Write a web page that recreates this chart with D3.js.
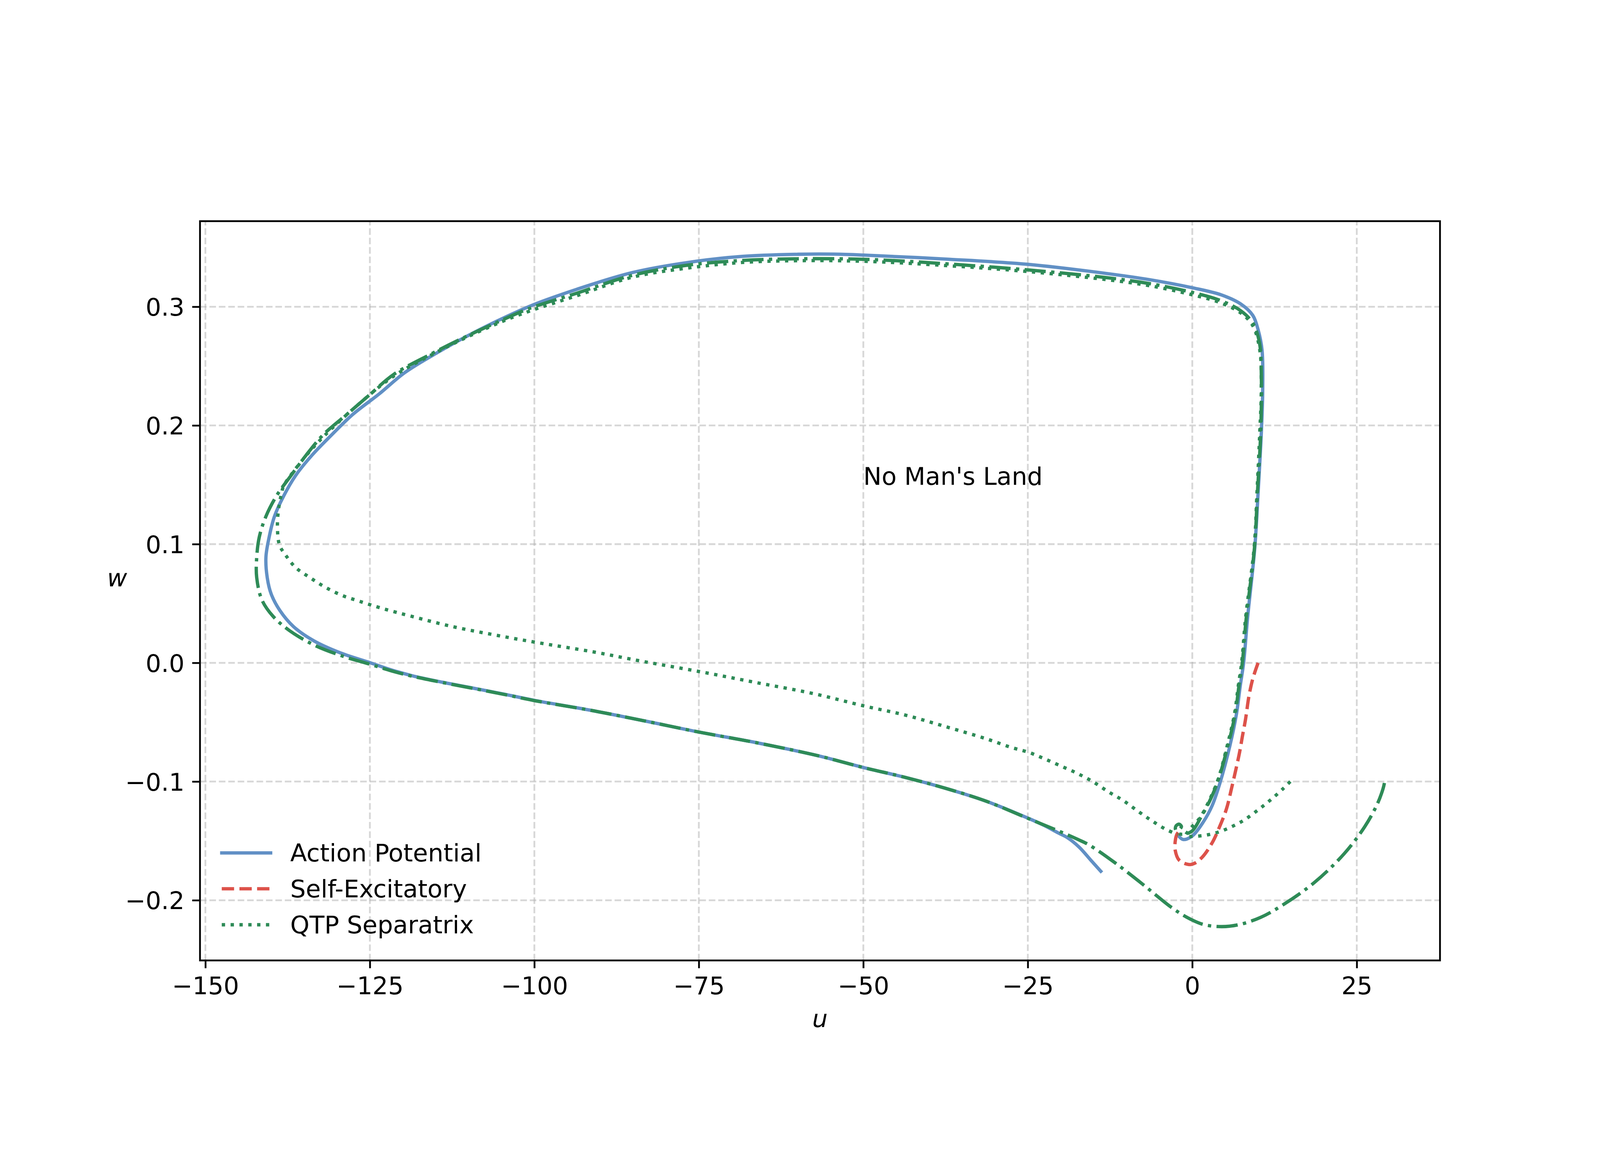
<html>
<head>
<meta charset='UTF-8'>
<script src="https://d3js.org/d3.v7.min.js"></script>
<style>
  html, body { margin: 0; padding: 0; background: #ffffff; overflow: hidden; }
  svg { display: block; }
  text { font-family: "DejaVu Sans", sans-serif; }
</style>
</head>
<body>
<svg id="chart" viewBox="0 0 5000 3000" preserveAspectRatio="xMidYMid meet" style="width: 100vw; height: 100vh; background: #ffffff"></svg>
<script>
// tick values
const xTicks = [-150, -125, -100, -75, -50, -25, 0, 25];
const yTicks = [-0.2, -0.1, 0.0, 0.1, 0.2, 0.3];

// action potential trajectory [u, w]
const actionPotential = [
  [-13.9, -0.1756], [-15.3, -0.1670], [-17.2, -0.1552], [-19.0, -0.1472], [-20.4, -0.1432],
  [-22.5, -0.1370], [-24.9, -0.1310], [-31.3, -0.1166], [-37.5, -0.1057], [-43.7, -0.0964],
  [-49.9, -0.0883], [-56.9, -0.0782], [-66.2, -0.0673], [-74.9, -0.0584], [-82.9, -0.0493],
  [-91.0, -0.0404], [-99.8, -0.0318], [-104.5, -0.0265], [-109.3, -0.0213], [-114.0, -0.0163],
  [-118.6, -0.0108], [-121.7, -0.0060], [-124.9, 0.0000], [-129.4, 0.0082],
  [-133.5, 0.0185], [-136.6, 0.0305], [-138.7, 0.0443], [-140.0, 0.0580], [-140.6, 0.0718],
  [-140.8, 0.0890], [-140.3, 0.1062], [-139.5, 0.1234], [-138.1, 0.1406], [-136.3, 0.1577],
  [-133.8, 0.1749], [-130.8, 0.1921], [-127.6, 0.2093], [-123.6, 0.2265], [-119.7, 0.2445],
  [-114.7, 0.2615], [-109.1, 0.2785], [-100.8, 0.3002], [-93.5, 0.3148], [-85.1, 0.3288],
  [-76.7, 0.3373], [-68.4, 0.3424], [-60.0, 0.3442], [-54.4, 0.3443], [-49.9, 0.3435],
  [-36.9, 0.3400], [-24.9, 0.3357], [-13.0, 0.3280], [-6.5, 0.3228], [0.0, 0.3160],
  [4.4, 0.3100], [7.4, 0.3022], [9.2, 0.2927], [10.0, 0.2807], [10.6, 0.2635],
  [10.7, 0.2292], [10.5, 0.1948], [10.0, 0.1432], [9.5, 0.0971], [8.4, 0.0378],
  [7.8, 0.0000], [7.3, -0.0189], [6.7, -0.0435], [5.75, -0.0690], [4.2, -0.1013],
  [3.0, -0.1205], [1.7, -0.1338], [0.0, -0.1458], [-1.4, -0.1488], [-2.2, -0.1450]
];

// self-excitatory trajectory [u, w]
const selfExcitatory = [
  [10.0, 0.0000], [9.2, -0.0133], [8.6, -0.0284], [8.1, -0.0473], [7.6, -0.0624],
  [7.2, -0.0750], [6.7, -0.0880], [5.95, -0.1061], [5.2, -0.1229], [4.2, -0.1374],
  [3.0, -0.1518], [1.5, -0.1638], [0.3, -0.1690], [-0.5, -0.1699], [-2.0, -0.1662],
  [-2.6, -0.1578], [-2.6, -0.1506], [-2.35, -0.1446], [-2.0, -0.1419]
];

// QTP separatrix [u, w]
const qtpSeparatrix = [
  [14.9, -0.1000], [13.8, -0.1060], [12.0, -0.1150], [10.2, -0.1230], [8.0, -0.1320],
  [6.0, -0.1380], [4.0, -0.1425], [2.0, -0.1452], [0.0, -0.1462], [-1.0, -0.1458],
  [-0.5, -0.1410], [1.2, -0.1302], [2.7, -0.1145], [3.95, -0.0977], [5.3, -0.0700],
  [6.4, -0.0435], [7.0, -0.0190], [7.5, 0.0000], [8.1, 0.0378], [9.4, 0.0971],
  [9.83, 0.1432], [10.26, 0.1948], [10.48, 0.2292], [10.26, 0.2635], [9.18, 0.2842],
  [7.44, 0.2945], [4.4, 0.3031], [0.05, 0.3100], [-6.46, 0.3177], [-12.97, 0.3228],
  [-24.9, 0.3296], [-36.9, 0.3345], [-49.9, 0.3383], [-60.0, 0.3388], [-68.4, 0.3373],
  [-76.7, 0.3326], [-85.1, 0.3249], [-93.5, 0.3094], [-100.75, 0.2963], [-104.7, 0.2880],
  [-110.2, 0.2745], [-115.8, 0.2590], [-121.4, 0.2415], [-127.0, 0.2165], [-131.7, 0.1925],
  [-134.6, 0.1752], [-136.7, 0.1605], [-138.1, 0.1491], [-138.45, 0.1423], [-138.9, 0.1285],
  [-139.05, 0.1148], [-138.74, 0.0993], [-137.8, 0.0907], [-136.3, 0.0804], [-134.1, 0.0718],
  [-131.9, 0.0641], [-129.4, 0.0572], [-126.65, 0.0520], [-123.2, 0.0460], [-118.6, 0.0391],
  [-112.4, 0.0305], [-106.2, 0.0237], [-99.8, 0.0173], [-91.0, 0.0092], [-83.5, 0.0012],
  [-74.85, -0.0074], [-66.2, -0.0167], [-57.5, -0.0260], [-49.9, -0.0363], [-43.7, -0.0439],
  [-37.5, -0.0537], [-31.3, -0.0640], [-27.55, -0.0712], [-24.9, -0.0753], [-22.6, -0.0805],
  [-20.1, -0.0866], [-17.6, -0.0928], [-15.15, -0.1000], [-12.7, -0.1088], [-10.5, -0.1160],
  [-8.3, -0.1248], [-6.15, -0.1330], [-4.0, -0.1403], [-2.2, -0.1446]
];

// unlabelled trajectory from (29, -0.1) [u, w]
const returnTrajectory = [
  [29.2, -0.1012], [29.0, -0.1059], [28.1, -0.1192], [26.2, -0.1381], [23.1, -0.1607],
  [18.5, -0.1853], [13.6, -0.2045], [10.4, -0.2144], [7.2, -0.2204], [4.5, -0.2222],
  [1.7, -0.2204], [-0.8, -0.2144], [-3.2, -0.2059], [-7.5, -0.1867], [-11.7, -0.1686],
  [-15.65, -0.1535], [-17.3, -0.1490], [-20.6, -0.1410], [-24.9, -0.1312], [-31.3, -0.1166],
  [-37.5, -0.1057], [-43.7, -0.0964], [-49.9, -0.0883], [-56.9, -0.0782], [-66.2, -0.0673],
  [-74.9, -0.0584], [-82.9, -0.0493], [-91.0, -0.0404], [-99.8, -0.0320], [-104.5, -0.0267],
  [-109.3, -0.0215], [-114.0, -0.0165], [-118.6, -0.0112], [-121.7, -0.0068], [-124.9, -0.0013],
  [-129.1, 0.0056], [-133.5, 0.0151], [-137.2, 0.0271], [-139.7, 0.0391],
  [-141.4, 0.0529], [-142.2, 0.0718], [-142.2, 0.0890], [-141.8, 0.1062], [-140.8, 0.1234],
  [-139.2, 0.1406], [-137.0, 0.1577], [-134.7, 0.1749], [-132.1, 0.1921], [-128.5, 0.2093],
  [-124.9, 0.2265], [-121.4, 0.2429], [-115.8, 0.2599], [-110.2, 0.2754], [-104.7, 0.2893],
  [-100.75, 0.2986], [-93.5, 0.3115], [-85.1, 0.3265], [-76.7, 0.3350], [-68.4, 0.3390],
  [-60.0, 0.3404], [-51.6, 0.3402], [-45.0, 0.3388], [-36.9, 0.3360], [-24.9, 0.3310],
  [-13.0, 0.3245], [-6.5, 0.3195], [0.05, 0.3120], [4.4, 0.3050], [7.4, 0.2965],
  [9.2, 0.2862], [10.2, 0.2700], [10.5, 0.2400], [10.4, 0.1948], [9.9, 0.1432],
  [9.45, 0.0971], [8.2, 0.0378], [7.6, 0.0000], [7.1, -0.0190], [6.5, -0.0435],
  [5.4, -0.0700], [4.0, -0.0977], [2.8, -0.1145], [1.3, -0.1302], [0.0, -0.1415],
  [-1.0, -0.1440], [-2.0, -0.1440], [-2.55, -0.1405], [-2.45, -0.1372], [-2.0, -0.1359],
  [-1.65, -0.1378], [-1.8, -0.1395]
];

const legendLabels = ['Action Potential', 'Self-Excitatory', 'QTP Separatrix'];

// points -> pixels at 500 dpi
const pt = 500 / 72;
const fontPx = 11 * pt;
const lw = 1.5 * pt;

const plotLeft = 625, plotRight = 4500, plotTop = 360, plotBottom = 2670;

let svg = d3.select('svg#chart');

let x = d3.scaleLinear().domain([-150.82, 37.65]).range([plotLeft, plotRight]);
let y = d3.scaleLinear().domain([-0.2507, 0.3721]).range([plotBottom, plotTop]);

const minus = s => s.replace('-', '\u2212');

// grid
let grid = svg.append('g');
const gridDash = (3.7 * 0.8 * pt) + ',' + (1.6 * 0.8 * pt);
xTicks.forEach(t => {
  grid.append('line')
      .attr('x1', x(t)).attr('x2', x(t))
      .attr('y1', plotBottom).attr('y2', plotTop)
      .attr('stroke', '#b0b0b0').attr('stroke-opacity', 0.5)
      .attr('stroke-width', 0.8 * pt)
      .attr('stroke-dasharray', gridDash);
});
yTicks.forEach(t => {
  grid.append('line')
      .attr('x1', plotLeft).attr('x2', plotRight)
      .attr('y1', y(t)).attr('y2', y(t))
      .attr('stroke', '#b0b0b0').attr('stroke-opacity', 0.5)
      .attr('stroke-width', 0.8 * pt)
      .attr('stroke-dasharray', gridDash);
});

// curves
let line = d3.line()
  .x(d => x(d[0]))
  .y(d => y(d[1]))
  .curve(d3.curveCatmullRom.alpha(0.5));

svg.append('clipPath').attr('id', 'plotclip')
  .append('rect').attr('x', plotLeft).attr('y', plotTop)
  .attr('width', plotRight - plotLeft).attr('height', plotBottom - plotTop);

let plot = svg.append('g').attr('clip-path', 'url(#plotclip)');

const styles = [
  { data: actionPotential, color: '#6190c5', dash: null, cap: 'square' },
  { data: selfExcitatory, color: '#dd524a', dash: [3.7, 1.6], cap: 'butt' },
  { data: qtpSeparatrix, color: '#2e8b57', dash: [1, 1.65], cap: 'butt' },
  { data: returnTrajectory, color: '#2e8b57', dash: [6.4, 1.6, 1, 1.6], cap: 'butt' }
];

styles.forEach(s => {
  plot.append('path')
      .attr('d', line(s.data))
      .attr('fill', 'none')
      .attr('stroke', s.color)
      .attr('stroke-width', lw)
      .attr('stroke-linejoin', 'round')
      .attr('stroke-linecap', s.cap)
      .attr('stroke-dasharray', s.dash ? s.dash.map(v => v * lw).join(',') : null);
});

// annotation
svg.append('text')
   .attr('x', x(-50)).attr('y', y(0.15))
   .attr('font-size', fontPx)
   .text("No Man's Land");

// axes
let xAxis = d3.axisBottom(x)
  .tickValues(xTicks)
  .tickSize(3.5 * pt).tickSizeOuter(0)
  .tickPadding(3.5 * pt)
  .tickFormat(d => minus(d3.format('d')(d)));

let yAxis = d3.axisLeft(y)
  .tickValues(yTicks)
  .tickSize(3.5 * pt).tickSizeOuter(0)
  .tickPadding(3.5 * pt)
  .tickFormat(d => minus(d3.format('.1f')(d)));

let gx = svg.append('g').attr('transform', `translate(0,${plotBottom})`).call(xAxis);
let gy = svg.append('g').attr('transform', `translate(${plotLeft},0)`).call(yAxis);

[gx, gy].forEach(g => {
  g.select('.domain').remove();
  g.selectAll('.tick line').attr('stroke', '#000').attr('stroke-width', 0.8 * pt);
  g.selectAll('.tick text')
   .attr('font-size', fontPx)
   .attr('font-family', '"DejaVu Sans", sans-serif')
   .attr('fill', '#000');
});
gx.selectAll('.tick text').attr('dy', '0.75em');
gy.selectAll('.tick text').attr('dy', '0.36em');

// frame
svg.append('rect')
   .attr('x', plotLeft).attr('y', plotTop)
   .attr('width', plotRight - plotLeft).attr('height', plotBottom - plotTop)
   .attr('fill', 'none')
   .attr('stroke', '#000')
   .attr('stroke-width', 0.8 * pt);

// axis labels
svg.append('text')
   .attr('x', (plotLeft + plotRight) / 2).attr('y', 2878)
   .attr('text-anchor', 'middle')
   .attr('font-size', fontPx)
   .attr('font-style', 'italic')
   .text('u');

svg.append('text')
   .attr('x', 366).attr('y', 1501)
   .attr('text-anchor', 'middle')
   .attr('font-size', fontPx)
   .attr('font-style', 'italic')
   .text('w');

// legend (no frame)
let legend = svg.append('g');
const rowY = [2334, 2446, 2558.5];
legendLabels.forEach((lab, i) => {
  let s = styles[i];
  legend.append('line')
        .attr('x1', 693).attr('x2', 693 + 2 * fontPx)
        .attr('y1', rowY[i]).attr('y2', rowY[i])
        .attr('stroke', s.color)
        .attr('stroke-width', lw)
        .attr('stroke-linecap', s.cap)
        .attr('stroke-dasharray', s.dash ? s.dash.map(v => v * lw).join(',') : null);
  legend.append('text')
        .attr('x', 693 + 2 * fontPx + 0.8 * fontPx)
        .attr('y', rowY[i] + 26.5)
        .attr('font-size', fontPx)
        .text(lab);
});
</script>
</body>
</html>
